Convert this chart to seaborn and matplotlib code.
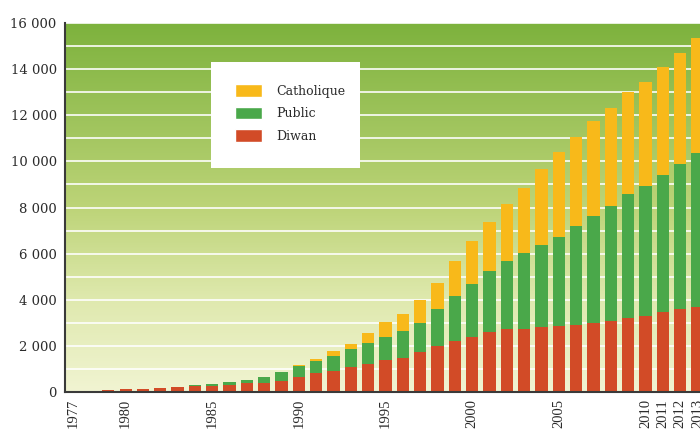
import numpy as np
import pandas as pd
import matplotlib
matplotlib.use("Agg")
import matplotlib.pyplot as plt
import seaborn as sns
from matplotlib.colors import LinearSegmentedColormap
from matplotlib.patches import Patch, Rectangle

sns.set_style("white")
plt.rcParams["font.family"] = ["DejaVu Serif"]

# Élèves en filière bilingue breton, par réseau
years = list(range(1977, 2014))
diwan = [15, 45, 85, 130, 115, 160, 200, 260, 270, 300, 375, 405, 490,
         640, 810, 920, 1080, 1225, 1370, 1485, 1735, 1980, 2225,
         2400, 2600, 2750, 2735, 2820, 2880, 2905, 2980, 3065, 3210,
         3310, 3470, 3615, 3700]
public = [0, 0, 0, 0, 0, 0, 30, 40, 60, 130, 160, 260, 390,
          505, 540, 650, 765, 885, 1020, 1145, 1275, 1620, 1955,
          2300, 2650, 2950, 3280, 3545, 3845, 4275, 4630, 5020, 5365,
          5615, 5930, 6275, 6670]
catholique = [0, 0, 0, 0, 0, 0, 0, 0, 0, 0, 0, 0, 0,
              30, 80, 190, 245, 465, 645, 755, 980, 1130, 1490,
              1845, 2140, 2470, 2850, 3295, 3660, 3890, 4150, 4235, 4440,
              4525, 4685, 4815, 4975]
year_labels = [1977, 1980, 1985, 1990, 1995, 2000, 2005, 2010, 2011, 2012, 2013]

c_cath = "#f8b91a"
c_pub = "#4aa84a"
c_diwan = "#d24b27"

df = pd.DataFrame({"annee": [str(y) for y in years],
                   "diwan": diwan, "public": public, "catholique": catholique})
df["diwan_public"] = df["diwan"] + df["public"]
df["total"] = df["diwan_public"] + df["catholique"]

W, H = 700, 429
fig = plt.figure(figsize=(W / 100, H / 100), dpi=100)
ax = fig.add_axes([65 / W, 37 / H, 635 / W, 369 / H])

xmin, xmax = -0.5, 36.14
ymax = 16000

# fond dégradé vert -> jaune pâle
grad = np.linspace(1, 0, 256).reshape(-1, 1)
cmap = LinearSegmentedColormap.from_list(
    "fond", [(0.0, "#f1f4d2"), (0.25, "#dfe9ae"), (0.5, "#bdd478"), (1.0, "#7db23d")])
ax.imshow(grad, extent=[xmin, xmax, 0, ymax], aspect="auto", cmap=cmap,
          origin="upper", zorder=0, interpolation="bilinear")

# barres empilées : total, puis Diwan + public, puis Diwan
for col, color in [("total", c_cath), ("diwan_public", c_pub), ("diwan", c_diwan)]:
    sns.barplot(data=df, x="annee", y=col, color=color, saturation=1,
                width=0.71, errorbar=None, linewidth=0, ax=ax, zorder=2)

ax.set_xlim(xmin, xmax)
ax.set_ylim(0, ymax)
ax.set_xlabel("")
ax.set_ylabel("")

# axe Y
major = list(range(0, ymax + 1, 2000))
ax.set_yticks(major)
ax.set_yticklabels([f"{v:,}".replace(",", " ") for v in major])
ax.set_yticks(list(range(1000, ymax, 2000)), minor=True)
ax.tick_params(axis="y", which="both", direction="in", length=11, width=1.4,
               color="#3a3a3a", pad=6, labelsize=9.5, labelcolor="#2b2b2b")
ax.grid(axis="y", which="both", color="white", lw=1.3, alpha=0.9)
ax.grid(axis="x", visible=False)
ax.set_axisbelow(True)

# axe X
pos = [years.index(y) for y in year_labels]
ax.set_xticks(pos)
ax.set_xticklabels([str(y) for y in year_labels], rotation=90,
                   fontfamily="Liberation Serif")
ax.set_xticks(np.arange(0.5, len(years) - 1, 1), minor=True)
ax.tick_params(axis="x", which="major", length=0, pad=5, labelsize=10.5,
               labelcolor="#2b2b2b")
ax.tick_params(axis="x", which="minor", direction="in", length=7, width=1.3,
               color="#3a3a3a")

for side in ("top", "right"):
    ax.spines[side].set_visible(False)
for side in ("left", "bottom"):
    ax.spines[side].set_color("#3a3a3a")
    ax.spines[side].set_linewidth(1.5)

# légende dans un cadre blanc
fig.add_artist(Rectangle((211 / W, 1 - 168 / H), 149 / W, 106 / H,
                         transform=fig.transFigure, facecolor="white",
                         edgecolor="none", zorder=3))
handles = [Patch(facecolor=c_cath), Patch(facecolor=c_pub), Patch(facecolor=c_diwan)]
fs = 9.0
fig.legend(handles, ["Catholique", "Public", "Diwan"], loc="upper left",
           bbox_to_anchor=(235 / W, 1 - 84 / H), bbox_transform=fig.transFigure,
           frameon=False, fontsize=fs, borderpad=0, borderaxespad=0,
           handlelength=27 / (fs * 100 / 72), handleheight=15 / (fs * 100 / 72),
           handletextpad=14 / (fs * 100 / 72), labelspacing=0.72,
           labelcolor="#2b2b2b")

fig.savefig("out.png", dpi=100, facecolor="white")
